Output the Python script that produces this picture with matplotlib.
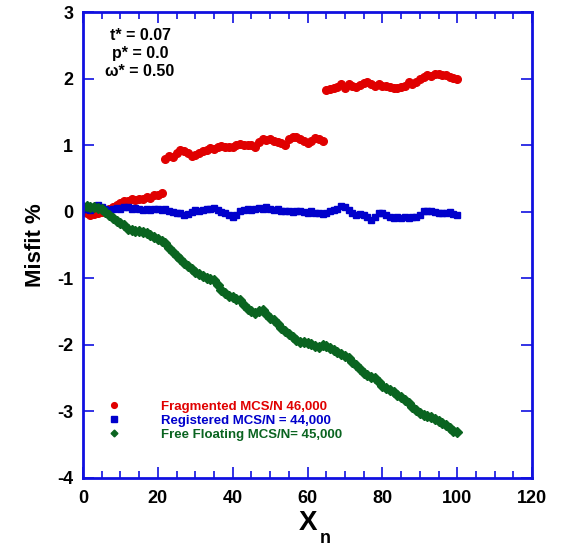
import numpy as np
import matplotlib.pyplot as plt
from matplotlib.ticker import MultipleLocator

plt.rcParams['font.family'] = ['Liberation Sans', 'DejaVu Sans']
plt.rcParams['font.weight'] = 'bold'
plt.rcParams['axes.unicode_minus'] = False

# x positions shared by all three runs
xn = list(range(0, 101))

# Fragmented MCS/N 46,000
fragmented = [0.00, -0.02, -0.04, -0.03, -0.02, 0.00, 0.03, 0.05, 0.08, 0.11,
              0.14, 0.16, 0.17, 0.19, 0.18, 0.20, 0.19, 0.22, 0.21, 0.25,
              0.26, 0.29, 0.79, 0.84, 0.82, 0.88, 0.93, 0.92, 0.88, 0.84,
              0.86, 0.89, 0.91, 0.93, 0.96, 0.95, 0.98, 0.99, 0.98, 0.97,
              0.98, 1.00, 1.02, 1.01, 1.00, 1.00, 0.97, 1.05, 1.09, 1.08,
              1.10, 1.07, 1.05, 1.03, 1.00, 1.10, 1.13, 1.12, 1.10, 1.06,
              1.04, 1.07, 1.11, 1.09, 1.06, 1.83, 1.85, 1.86, 1.88, 1.92,
              1.86, 1.92, 1.90, 1.88, 1.91, 1.94, 1.95, 1.92, 1.90, 1.92,
              1.89, 1.90, 1.88, 1.87, 1.86, 1.88, 1.90, 1.95, 1.92, 1.96,
              2.00, 2.03, 2.06, 2.05, 2.07, 2.07, 2.06, 2.06, 2.03, 2.01,
              2.00]

# Registered MCS/N = 44,000
registered = [0.05, 0.04, 0.03, 0.07, 0.10, 0.08, 0.05, 0.03, 0.04, 0.06,
              0.05, 0.07, 0.08, 0.05, 0.06, 0.04, 0.03, 0.04, 0.03, 0.05,
              0.04, 0.03, 0.04, 0.02, 0.00, -0.01, -0.02, -0.04, -0.03, 0.00,
              0.03, 0.01, 0.03, 0.05, 0.04, 0.06, 0.03, 0.00, -0.02, -0.05,
              -0.07, -0.04, 0.02, 0.03, 0.04, 0.03, 0.05, 0.06, 0.05, 0.07,
              0.05, 0.03, 0.04, 0.02, 0.01, 0.02, 0.00, 0.01, 0.02, 0.00,
              -0.01, 0.01, -0.01, -0.02, -0.03, -0.02, 0.01, 0.03, 0.05, 0.09,
              0.08, 0.03, -0.02, -0.04, -0.03, -0.05, -0.08, -0.12, -0.08, -0.02,
              -0.01, -0.04, -0.08, -0.09, -0.08, -0.09, -0.08, -0.09, -0.07, -0.08,
              -0.04, 0.01, 0.02, 0.01, 0.00, -0.02, -0.02, -0.01, 0.00, -0.03,
              -0.04]

# Free Floating MCS/N= 45,000
floating = [0.08, 0.09, 0.08, 0.07, 0.06, 0.04, 0.00, -0.05, -0.09, -0.13,
            -0.17, -0.20, -0.25, -0.27, -0.28, -0.29, -0.30, -0.31, -0.34, -0.38,
            -0.41, -0.44, -0.47, -0.54, -0.60, -0.66, -0.71, -0.77, -0.82, -0.86,
            -0.91, -0.94, -0.97, -1.00, -1.01, -1.03, -1.10, -1.17, -1.22, -1.26,
            -1.28, -1.31, -1.33, -1.40, -1.46, -1.49, -1.52, -1.49, -1.48, -1.54,
            -1.59, -1.62, -1.68, -1.75, -1.79, -1.84, -1.88, -1.92, -1.95, -1.96,
            -1.97, -1.99, -2.01, -2.03, -2.00, -2.01, -2.05, -2.07, -2.10, -2.14,
            -2.17, -2.20, -2.25, -2.30, -2.36, -2.42, -2.45, -2.48, -2.50, -2.55,
            -2.61, -2.65, -2.68, -2.71, -2.75, -2.78, -2.83, -2.88, -2.93, -2.98,
            -3.03, -3.05, -3.07, -3.09, -3.12, -3.15, -3.18, -3.21, -3.25, -3.29,
            -3.31]

red = '#e00000'
blue = '#0000cc'
green = '#0a6420'
axis_blue = '#1010e0'

fig = plt.figure(figsize=(5.67, 5.51), dpi=100)
ax = fig.add_axes([0.1464, 0.1325, 0.792, 0.845])

ax.plot(xn, fragmented, 'o', color=red, ms=5.5, mec=red, label='Fragmented MCS/N 46,000')
ax.plot(xn, registered, 's', color=blue, ms=5.0, mec=blue, label='Registered MCS/N = 44,000')
ax.plot(xn, floating, 'D', color=green, ms=4.6, mec=green, label='Free Floating MCS/N= 45,000')

ax.set_xlim(0, 120)
ax.set_ylim(-4, 3)
ax.xaxis.set_major_locator(MultipleLocator(20))
ax.xaxis.set_minor_locator(MultipleLocator(5))
ax.yaxis.set_major_locator(MultipleLocator(1))

for s in ax.spines.values():
    s.set_color(axis_blue)
    s.set_linewidth(2)
ax.tick_params(which='both', direction='in', top=True, right=True, color=axis_blue,
               labelsize=13)
ax.tick_params(axis='y', pad=7)
ax.tick_params(axis='x', pad=9)
ax.tick_params(which='major', length=8, width=1.2)
ax.tick_params(which='minor', length=5, width=1.2)
for lab in ax.get_xticklabels() + ax.get_yticklabels():
    lab.set_fontweight('bold')

ax.set_ylabel('Misfit %', fontsize=16, fontweight='bold', labelpad=8)
ax.set_xlabel('X', fontsize=20, fontweight='bold', labelpad=2)
fig.text(0.573, 0.022, 'n', fontsize=13, fontweight='bold', ha='center', va='center')

ax.text(0.127, 0.9495, 't* = 0.07', transform=ax.transAxes, ha='center', va='center',
        fontsize=11.5, fontweight='bold')
ax.text(0.127, 0.912, 'p* = 0.0', transform=ax.transAxes, ha='center', va='center',
        fontsize=11.5, fontweight='bold')
ax.text(0.127, 0.872, 'ω* = 0.50', transform=ax.transAxes, ha='center', va='center',
        fontsize=11.5, fontweight='bold')

leg = ax.legend(loc='lower left', bbox_to_anchor=(0.03, 0.055), frameon=False,
                handlelength=0.8, handletextpad=3.2, labelspacing=0.12,
                markerscale=0.75, prop={'size': 9.5, 'weight': 'bold'},
                labelcolor='linecolor')

fig.savefig('out.png', dpi=100)
